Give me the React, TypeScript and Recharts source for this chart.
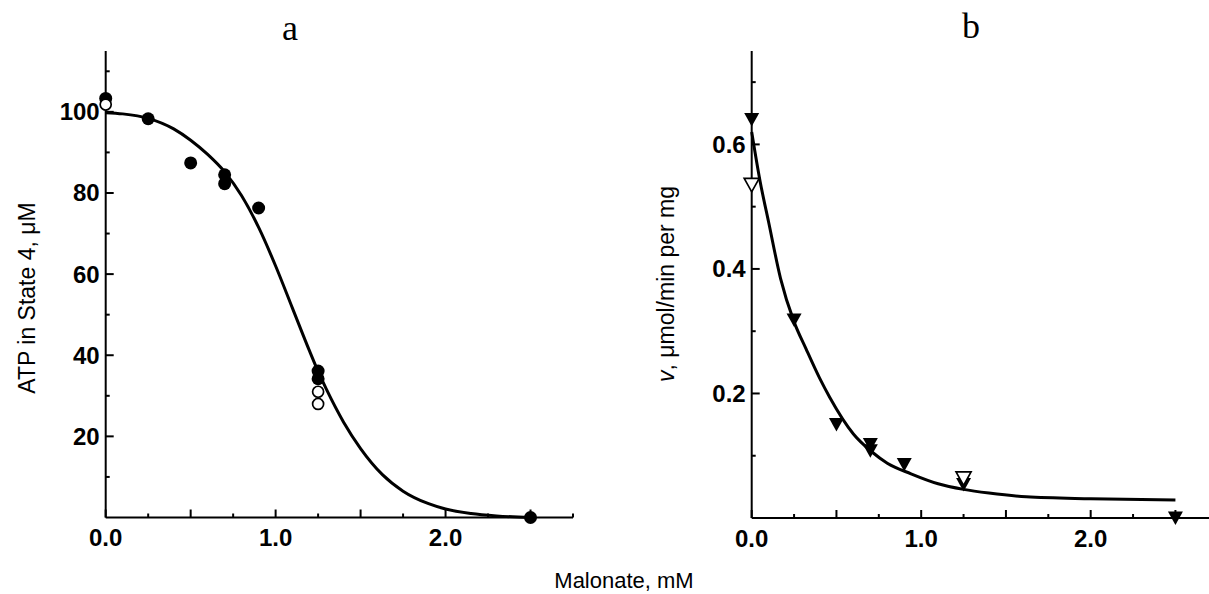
import React from 'react';
import { ComposedChart, Line, Scatter, XAxis, YAxis } from 'recharts';

// ---------- data ----------
const malonateTicks = [0, 0.25, 0.5, 0.75, 1, 1.25, 1.5, 1.75, 2, 2.25, 2.5, 2.75];
const atpTicks = [0, 10, 20, 30, 40, 50, 60, 70, 80, 90, 100, 110];
const rateTicks = [0, 0.1, 0.2, 0.3, 0.4, 0.5, 0.6, 0.7];

// panel a: ATP in State 4
const atpFilledX = [0, 0.25, 0.5, 0.7, 0.7, 0.9, 1.25, 1.25, 2.5];
const atpFilledY = [103.3, 98.3, 87.4, 84.5, 82.3, 76.3, 36.1, 34.2, 0];
const atpOpenX = [0, 1.25, 1.25];
const atpOpenY = [101.8, 31.0, 28.0];
const atpFitX = [0, 0.1, 0.25, 0.4, 0.5, 0.6, 0.7, 0.8, 0.9, 1.0, 1.1, 1.2, 1.25, 1.3, 1.4, 1.5, 1.63, 1.75, 1.9, 2.0, 2.15, 2.3, 2.5];
const atpFitY = [99.8, 99.5, 98.4, 95.8, 93.0, 89.5, 85.2, 79.3, 71.5, 62.0, 51.5, 41.0, 36.0, 31.5, 23.5, 17.0, 10.5, 6.5, 3.4, 2.1, 1.0, 0.4, 0];

// panel b: rate v
const rateFilledX = [0, 0.25, 0.5, 0.7, 0.7, 0.9, 1.25, 2.5];
const rateFilledY = [0.64, 0.318, 0.15, 0.118, 0.108, 0.086, 0.054, 0.0];
const rateOpenX = [0, 1.25];
const rateOpenY = [0.535, 0.0635];
const rateFitX = [0, 0.05, 0.1, 0.17, 0.25, 0.32, 0.4, 0.46, 0.6, 0.71, 0.8, 0.94, 1.1, 1.25, 1.4, 1.62, 2.0, 2.5];
const rateFitY = [0.62, 0.54, 0.475, 0.385, 0.315, 0.272, 0.225, 0.194, 0.135, 0.106, 0.088, 0.071, 0.055, 0.046, 0.04, 0.034, 0.031, 0.029];

const zip = (xs: number[], ys: number[]) => xs.map((x, i) => ({ x, y: ys[i] }));

const atpFilled = zip(atpFilledX, atpFilledY);
const atpOpen = zip(atpOpenX, atpOpenY);
const atpFit = zip(atpFitX, atpFitY);
const rateFilled = zip(rateFilledX, rateFilledY);
const rateOpen = zip(rateOpenX, rateOpenY);
const rateFit = zip(rateFitX, rateFitY);

// ---------- styles ----------
const SANS = "'Liberation Sans', Arial, sans-serif";
const SERIF = "'Liberation Serif', 'Times New Roman', serif";

const near = (a: number, b: number) => Math.abs(a - b) < 1e-6;

const XTick = (props: any) => {
  const { x, y, payload } = props;
  const v = payload.value as number;
  const major = near(v * 2, Math.round(v * 2));
  const labelled = near(v, Math.round(v));
  return (
    <g>
      <line x1={x} x2={x} y1={y} y2={y - (major ? 8 : 4)} stroke="#000" strokeWidth={2} />
      {labelled && (
        <text x={x} y={y + 20} textAnchor="middle" dominantBaseline="central"
          fontFamily={SANS} fontWeight="bold" fontSize={24} fill="#000">
          {v.toFixed(1)}
        </text>
      )}
    </g>
  );
};

const makeYTick = (majorStep: number, fmt: (v: number) => string) => (props: any) => {
  const { x, y, payload } = props;
  const v = payload.value as number;
  if (near(v, 0)) return <g />;
  const major = near(v / majorStep, Math.round(v / majorStep));
  return (
    <g>
      <line x1={x} x2={x + (major ? 8 : 4)} y1={y} y2={y} stroke="#000" strokeWidth={2} />
      {major && (
        <text x={x - 6} y={y} textAnchor="end" dominantBaseline="central"
          fontFamily={SANS} fontWeight="bold" fontSize={24} fill="#000">
          {fmt(v)}
        </text>
      )}
    </g>
  );
};

const AtpYTick = makeYTick(20, (v) => String(Math.round(v)));
const RateYTick = makeYTick(0.2, (v) => v.toFixed(1));

const FilledCircle = (p: any) => <circle cx={p.cx} cy={p.cy} r={6.5} fill="#000" />;
const OpenCircle = (p: any) => <circle cx={p.cx} cy={p.cy} r={5.5} fill="#fff" stroke="#000" strokeWidth={1.7} />;
const tri = (cx: number, cy: number) =>
  `${cx - 7.5},${cy - 6.5} ${cx + 7.5},${cy - 6.5} ${cx},${cy + 7}`;
const FilledTri = (p: any) => <polygon points={tri(p.cx, p.cy)} fill="#000" />;
const OpenTri = (p: any) => <polygon points={tri(p.cx, p.cy)} fill="#fff" stroke="#000" strokeWidth={1.7} />;

const axisLine = { stroke: '#000', strokeWidth: 2 };

const Text = ({ x, y, size, family, children, rotate, weight }: any) => (
  <div style={{
    position: 'absolute', left: x, top: y, whiteSpace: 'nowrap',
    transform: `translate(-50%, -50%)${rotate ? ' rotate(-90deg)' : ''}`,
    fontFamily: family, fontSize: size, lineHeight: 1, color: '#000', fontWeight: weight || 'normal',
  }}>{children}</div>
);

export default function App() {
  return (
    <div style={{ position: 'fixed', left: 0, top: 0, width: 1209, height: 594, overflow: 'hidden', background: '#fff' }}>
      <div style={{ position: 'absolute', left: 0, top: 0 }}>
        <ComposedChart width={620} height={594} margin={{ top: 51, right: 47, bottom: 46.5, left: 0 }}>
          <XAxis dataKey="x" type="number" domain={[0, 2.75]} ticks={malonateTicks} interval={0}
            tickSize={0} tickMargin={0} height={30} axisLine={axisLine} tickLine={false} tick={<XTick />} />
          <YAxis dataKey="y" type="number" domain={[0, 115]} ticks={atpTicks} interval={0}
            tickSize={0} tickMargin={0} width={105.7} axisLine={axisLine} tickLine={false} tick={<AtpYTick />} />
          <Line data={atpFit} dataKey="y" type="monotone" stroke="#000" strokeWidth={3} dot={false}
            isAnimationActive={false} />
          <Scatter data={atpFilled} dataKey="y" shape={<FilledCircle />} isAnimationActive={false} />
          <Scatter data={atpOpen} dataKey="y" shape={<OpenCircle />} isAnimationActive={false} />
        </ComposedChart>
      </div>
      <div style={{ position: 'absolute', left: 620, top: 0 }}>
        <ComposedChart width={620} height={594} margin={{ top: 51, right: 22.2, bottom: 46, left: 0 }}>
          <XAxis dataKey="x" type="number" domain={[0, 2.75]} ticks={malonateTicks} interval={0}
            tickSize={0} tickMargin={0} height={30} axisLine={axisLine} tickLine={false} tick={<XTick />} />
          <YAxis dataKey="y" type="number" domain={[0, 0.75]} ticks={rateTicks} interval={0}
            tickSize={0} tickMargin={0} width={131.7} axisLine={axisLine} tickLine={false} tick={<RateYTick />} />
          <Line data={rateFit} dataKey="y" type="monotone" stroke="#000" strokeWidth={3} dot={false}
            isAnimationActive={false} />
          <Scatter data={rateFilled} dataKey="y" shape={<FilledTri />} isAnimationActive={false} />
          <Scatter data={rateOpen} dataKey="y" shape={<OpenTri />} isAnimationActive={false} />
        </ComposedChart>
      </div>
      <Text x={290} y={28} size={36} family={SERIF}>a</Text>
      <Text x={971} y={26} size={36} family={SERIF}>b</Text>
      <Text x={27} y={298} size={23} family={SANS} rotate>ATP in State 4, μM</Text>
      <Text x={666} y={284} size={23} family={SANS} rotate><i>v</i>, μmol/min per mg</Text>
      <Text x={624} y={581} size={22} family={SANS}>Malonate, mM</Text>
    </div>
  );
}
